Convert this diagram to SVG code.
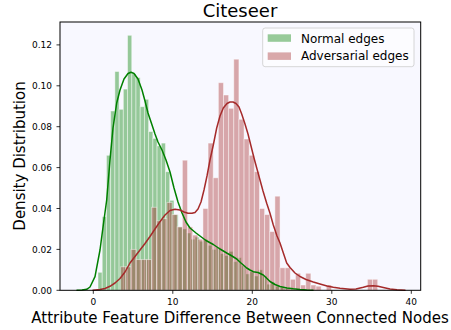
<svg xmlns="http://www.w3.org/2000/svg" width="451" height="330" viewBox="0 0 451 330">
<style>
text{font-family:"DejaVu Sans","Liberation Sans",sans-serif;fill:#000}
.tk{font-size:9px}
.tx{text-anchor:middle}
.ty{text-anchor:end}
.g{fill:#008000;fill-opacity:0.4;stroke:#fff;stroke-opacity:0.5;stroke-width:0.9}
.r{fill:#A52A2A;fill-opacity:0.4;stroke:#fff;stroke-opacity:0.5;stroke-width:0.9}
.tick{stroke:#000;stroke-width:0.8}
.kde{fill:none;stroke-width:1.5;stroke-linejoin:round;stroke-linecap:round}
</style>
<rect width="451" height="330" fill="#fff"/>
<g id="axes-bg"><rect x="60" y="22" width="360.7" height="268.3" fill="#F8F8FF"/></g>
<g id="bars-normal">
<rect class="g" x="98.00" y="272.3" width="4.22" height="18.0"/>
<rect class="g" x="102.22" y="216.7" width="4.22" height="73.6"/>
<rect class="g" x="106.44" y="155.3" width="4.22" height="135.0"/>
<rect class="g" x="110.66" y="111.0" width="4.22" height="179.3"/>
<rect class="g" x="114.88" y="71.5" width="4.22" height="218.8"/>
<rect class="g" x="119.10" y="109.3" width="4.22" height="181.0"/>
<rect class="g" x="123.32" y="89.1" width="4.22" height="201.2"/>
<rect class="g" x="127.54" y="35.3" width="4.22" height="255.0"/>
<rect class="g" x="131.76" y="73.9" width="4.22" height="216.4"/>
<rect class="g" x="135.98" y="77.6" width="4.22" height="212.7"/>
<rect class="g" x="140.20" y="106.7" width="4.22" height="183.6"/>
<rect class="g" x="144.42" y="99.3" width="4.22" height="191.0"/>
<rect class="g" x="148.64" y="131.6" width="4.22" height="158.7"/>
<rect class="g" x="152.86" y="138.4" width="4.22" height="151.9"/>
<rect class="g" x="157.08" y="145.9" width="4.22" height="144.4"/>
<rect class="g" x="161.30" y="143.1" width="4.22" height="147.2"/>
<rect class="g" x="165.52" y="171.7" width="4.22" height="118.6"/>
<rect class="g" x="169.74" y="200.3" width="4.22" height="90.0"/>
<rect class="g" x="173.96" y="214.6" width="4.22" height="75.7"/>
<rect class="g" x="178.18" y="226.9" width="4.22" height="63.4"/>
<rect class="g" x="182.40" y="228.9" width="4.22" height="61.4"/>
<rect class="g" x="186.62" y="233.0" width="4.22" height="57.3"/>
<rect class="g" x="190.84" y="239.2" width="4.22" height="51.1"/>
<rect class="g" x="195.06" y="237.1" width="4.22" height="53.2"/>
<rect class="g" x="199.28" y="241.2" width="4.22" height="49.1"/>
<rect class="g" x="203.50" y="239.2" width="4.22" height="51.1"/>
<rect class="g" x="207.72" y="245.3" width="4.22" height="45.0"/>
<rect class="g" x="211.94" y="249.4" width="4.22" height="40.9"/>
<rect class="g" x="216.16" y="247.4" width="4.22" height="42.9"/>
<rect class="g" x="220.38" y="253.5" width="4.22" height="36.8"/>
<rect class="g" x="224.60" y="255.5" width="4.22" height="34.8"/>
<rect class="g" x="228.82" y="251.4" width="4.22" height="38.9"/>
<rect class="g" x="233.04" y="261.7" width="4.22" height="28.6"/>
<rect class="g" x="237.26" y="257.6" width="4.22" height="32.7"/>
<rect class="g" x="241.48" y="265.8" width="4.22" height="24.5"/>
<rect class="g" x="245.70" y="273.9" width="4.22" height="16.4"/>
<rect class="g" x="249.92" y="271.9" width="4.22" height="18.4"/>
<rect class="g" x="254.14" y="276.0" width="4.22" height="14.3"/>
<rect class="g" x="258.36" y="269.8" width="4.22" height="20.5"/>
<rect class="g" x="262.58" y="276.0" width="4.22" height="14.3"/>
<rect class="g" x="266.80" y="284.2" width="4.22" height="6.1"/>
<rect class="g" x="271.02" y="282.1" width="4.22" height="8.2"/>
<rect class="g" x="275.24" y="286.2" width="4.22" height="4.1"/>
<rect class="g" x="279.46" y="287.2" width="4.22" height="3.1"/>
<rect class="g" x="283.68" y="288.3" width="4.22" height="2.0"/>
<rect class="g" x="287.90" y="289.3" width="4.22" height="1.0"/>
<rect class="g" x="300.56" y="289.3" width="4.22" height="1.0"/>
</g>
<g id="bars-adversarial">
<rect class="r" x="120.70" y="266.8" width="5.14" height="23.5"/>
<rect class="r" x="125.84" y="266.8" width="5.14" height="23.5"/>
<rect class="r" x="130.98" y="249.4" width="5.14" height="40.9"/>
<rect class="r" x="136.12" y="259.6" width="5.14" height="30.7"/>
<rect class="r" x="141.26" y="259.6" width="5.14" height="30.7"/>
<rect class="r" x="146.40" y="259.6" width="5.14" height="30.7"/>
<rect class="r" x="151.54" y="207.3" width="5.14" height="83.0"/>
<rect class="r" x="156.68" y="220.8" width="5.14" height="69.5"/>
<rect class="r" x="161.82" y="218.7" width="5.14" height="71.6"/>
<rect class="r" x="166.96" y="202.4" width="5.14" height="87.9"/>
<rect class="r" x="172.10" y="214.6" width="5.14" height="75.7"/>
<rect class="r" x="177.24" y="226.9" width="5.14" height="63.4"/>
<rect class="r" x="182.38" y="160.2" width="5.14" height="130.1"/>
<rect class="r" x="187.52" y="226.9" width="5.14" height="63.4"/>
<rect class="r" x="192.66" y="235.1" width="5.14" height="55.2"/>
<rect class="r" x="197.80" y="239.2" width="5.14" height="51.1"/>
<rect class="r" x="202.94" y="208.5" width="5.14" height="81.8"/>
<rect class="r" x="208.08" y="143.1" width="5.14" height="147.2"/>
<rect class="r" x="213.22" y="177.8" width="5.14" height="112.5"/>
<rect class="r" x="218.36" y="82.7" width="5.14" height="207.6"/>
<rect class="r" x="223.50" y="95.0" width="5.14" height="195.3"/>
<rect class="r" x="228.64" y="108.3" width="5.14" height="182.0"/>
<rect class="r" x="233.78" y="59.2" width="5.14" height="231.1"/>
<rect class="r" x="238.92" y="119.3" width="5.14" height="171.0"/>
<rect class="r" x="244.06" y="139.0" width="5.14" height="151.3"/>
<rect class="r" x="249.20" y="155.3" width="5.14" height="135.0"/>
<rect class="r" x="254.34" y="171.7" width="5.14" height="118.6"/>
<rect class="r" x="259.48" y="208.5" width="5.14" height="81.8"/>
<rect class="r" x="264.62" y="214.6" width="5.14" height="75.7"/>
<rect class="r" x="269.76" y="231.6" width="5.14" height="58.7"/>
<rect class="r" x="274.90" y="196.2" width="5.14" height="94.1"/>
<rect class="r" x="280.04" y="267.8" width="5.14" height="22.5"/>
<rect class="r" x="285.18" y="267.8" width="5.14" height="22.5"/>
<rect class="r" x="290.32" y="279.3" width="5.14" height="11.0"/>
<rect class="r" x="295.46" y="273.3" width="5.14" height="17.0"/>
<rect class="r" x="300.60" y="285.0" width="5.14" height="5.3"/>
<rect class="r" x="305.74" y="273.3" width="5.14" height="17.0"/>
<rect class="r" x="310.88" y="285.0" width="5.14" height="5.3"/>
<rect class="r" x="316.02" y="286.2" width="5.14" height="4.1"/>
<rect class="r" x="326.30" y="285.0" width="5.14" height="5.3"/>
<rect class="r" x="367.42" y="279.3" width="5.14" height="11.0"/>
<rect class="r" x="372.56" y="279.3" width="5.14" height="11.0"/>
</g>
<g id="kde-curves">
<polyline class="kde" stroke="#008000" points="77,290.2 82,290 86.7,289.3 90,287 95,276.7 100,250 103.3,225 106.7,200 110,160 113,128 116.7,103 120,90 124,79 128,73.5 131,72.3 134,73.5 138,79 142,90 145,101 148,113 151.7,124 155,134 158,142 162,150 166,160 170,172 174,188 178,202 182,213 186,222 190,228 196,233 200,236 206,240.5 213.3,244.5 220,249 226.7,253 232,256 236.7,259 241,263 246.7,268 250,270 253.3,271.7 258,272.5 263.3,275 267,278.5 270,281.5 275,284.5 280,286.5 287,288 293.3,288.8 300,289.5 306.7,290 313,290.3"/>
<polyline class="kde" stroke="#A52A2A" points="93,290.3 100,289.5 105,288.5 110,286.3 115,283 120,278.5 125,272 130,263 135,256.5 140,250 145,243.5 150,236.5 155,229 160,221.7 165,215 170,210.5 175,209.3 180,210 184,212 188,213.3 192,213.3 195,212.5 198,209 201,202 204,190 207,176 210,160 213.3,145 216.7,128 220,116 223.3,108 227,103.5 230,102 233,102 236,103.5 239,107 241.7,114 245,124 248,134 251,146 254,158 257,169 260,180 263,191 266.7,203.3 270,213.3 273.3,225 277,236 280,243 283,252 286.7,263 290,267.5 295,273 300,276.5 306,279.5 313.3,282 320,284 327,286 333.3,287.3 340,288.3 350,289.2 356,289 363.3,287.3 368,286 373.3,285.7 378,286.3 383.3,287.5 390,289 397,289.8 405,290.3"/>
</g>
<g id="frame"><rect x="60" y="22" width="360.7" height="268.3" fill="none" stroke="#000" stroke-width="1"/></g>
<g id="x-axis">
<line class="tick" x1="93.3" y1="290.3" x2="93.3" y2="293.8"/>
<line class="tick" x1="172.8" y1="290.3" x2="172.8" y2="293.8"/>
<line class="tick" x1="252.3" y1="290.3" x2="252.3" y2="293.8"/>
<line class="tick" x1="331.8" y1="290.3" x2="331.8" y2="293.8"/>
<line class="tick" x1="411.3" y1="290.3" x2="411.3" y2="293.8"/>
<text class="tk tx" x="93.3" y="305">0</text>
<text class="tk tx" x="172.8" y="305">10</text>
<text class="tk tx" x="252.3" y="305">20</text>
<text class="tk tx" x="331.8" y="305">30</text>
<text class="tk tx" x="411.3" y="305">40</text>
<text class="tx" x="240" y="323" font-size="15">Attribute Feature Difference Between Connected Nodes</text>
</g>
<g id="y-axis">
<line class="tick" x1="56.5" y1="290.3" x2="60" y2="290.3"/>
<line class="tick" x1="56.5" y1="249.4" x2="60" y2="249.4"/>
<line class="tick" x1="56.5" y1="208.5" x2="60" y2="208.5"/>
<line class="tick" x1="56.5" y1="167.6" x2="60" y2="167.6"/>
<line class="tick" x1="56.5" y1="126.7" x2="60" y2="126.7"/>
<line class="tick" x1="56.5" y1="85.8" x2="60" y2="85.8"/>
<line class="tick" x1="56.5" y1="44.9" x2="60" y2="44.9"/>
<text class="tk ty" x="52" y="293.6">0.00</text>
<text class="tk ty" x="52" y="252.7">0.02</text>
<text class="tk ty" x="52" y="211.8">0.04</text>
<text class="tk ty" x="52" y="170.9">0.06</text>
<text class="tk ty" x="52" y="130">0.08</text>
<text class="tk ty" x="52" y="89.1">0.10</text>
<text class="tk ty" x="52" y="48.2">0.12</text>
<text class="tx" transform="translate(25 156) rotate(-90)" font-size="15">Density Distribution</text>
</g>
<g id="title"><text class="tx" x="240" y="17" font-size="18">Citeseer</text></g>
<g id="legend">
<rect x="262.7" y="28" width="151.3" height="38.7" rx="2.5" fill="#fcfcff" fill-opacity="0.8" stroke="#cccccc" stroke-width="0.8"/>
<rect x="267.7" y="34.3" width="23.3" height="7.5" fill="#008000" fill-opacity="0.4"/>
<rect x="267.7" y="52.4" width="23.3" height="7.5" fill="#A52A2A" fill-opacity="0.4"/>
<text x="301" y="42.6" font-size="12">Normal edges</text>
<text x="301" y="60.3" font-size="12">Adversarial edges</text>
</g>
</svg>
